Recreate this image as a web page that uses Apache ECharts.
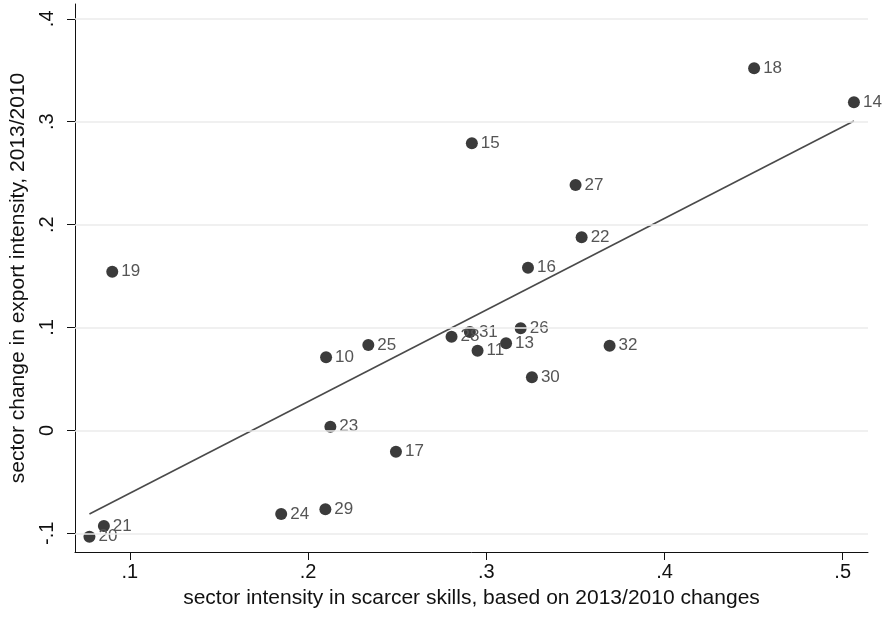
<!DOCTYPE html>
<html>
<head>
<meta charset="utf-8">
<script src="https://cdn.jsdelivr.net/npm/echarts@6/dist/echarts.min.js"></script>
<style>
  html, body { margin: 0; padding: 0; background: #fff; }
  #chart { width: 885px; height: 617px; }
</style>
</head>
<body>
<div id="chart"></div>
<script>
// Sector identifiers
const sectors = ['18', '14', '15', '27', '22', '16', '19', '26', '31', '28', '13', '11', '32', '10', '25', '30', '23', '17', '24', '29', '21', '20'];
// Sector intensity in scarcer skills (2013/2010 changes)
const skillIntensity = [0.4503, 0.5063, 0.2919, 0.3501, 0.3535, 0.3234, 0.0901, 0.3193, 0.2908, 0.2805, 0.3111, 0.2951, 0.3692, 0.2101, 0.2338, 0.3256, 0.2125, 0.2493, 0.1849, 0.2097, 0.0854, 0.0773];
// Change in export intensity, 2013/2010
const exportChange = [0.3519, 0.3189, 0.2790, 0.2385, 0.1877, 0.1581, 0.1542, 0.0992, 0.0956, 0.0911, 0.0846, 0.0775, 0.0823, 0.0710, 0.0830, 0.0516, 0.0036, -0.0207, -0.0812, -0.0767, -0.0929, -0.1033];
// Fitted values line endpoints
const fitX = [0.0773, 0.5063];
const fitY = [-0.0812, 0.3007];
// Tick values
const xTicks = [0.1, 0.2, 0.3, 0.4, 0.5];
const yTicks = [-0.1, 0, 0.1, 0.2, 0.3, 0.4];

const fmt = v => {
  if (Math.abs(v) < 1e-9) return '0';
  const s = (Math.round(v * 10) / 10).toString();
  return s.replace('0.', '.');
};

const font = 'Liberation Sans, Arial, sans-serif';
const chart = echarts.init(document.getElementById('chart'), null, { renderer: 'canvas' });

chart.setOption({
  animation: false,
  backgroundColor: '#ffffff',
  grid: { left: 73, right: 17, top: 4, bottom: 65, containLabel: false },
  xAxis: {
    type: 'value',
    min: 0.0692,
    max: 0.5142,
    name: 'sector intensity in scarcer skills, based on 2013/2010 changes',
    nameLocation: 'middle',
    nameGap: 36,
    nameTextStyle: { fontFamily: font, fontSize: 21, color: '#111' },
    axisLine: { show: true, onZero: false, lineStyle: { color: '#111', width: 1 } },
    axisTick: { show: true, length: 8, customValues: xTicks, lineStyle: { color: '#111', width: 1 } },
    axisLabel: { customValues: xTicks, formatter: fmt, fontFamily: font, fontSize: 20, color: '#111', margin: 10 },
    splitLine: { show: false }
  },
  yAxis: {
    type: 'value',
    min: -0.1182,
    max: 0.4144,
    name: 'sector change in export intensity, 2013/2010',
    nameLocation: 'middle',
    nameRotate: 90,
    nameGap: 46,
    nameTextStyle: { fontFamily: font, fontSize: 21, color: '#111' },
    axisLine: { show: true, onZero: false, lineStyle: { color: '#111', width: 1 } },
    axisTick: { show: true, length: 8, customValues: yTicks, lineStyle: { color: '#111', width: 1 } },
    axisLabel: { customValues: yTicks, formatter: fmt, rotate: 90, fontFamily: font, fontSize: 20, color: '#111', margin: 18 },
    splitLine: { show: false }
  },
  series: [
    {
      // horizontal reference lines at the y ticks
      type: 'line',
      data: [],
      markLine: {
        silent: true,
        symbol: 'none',
        label: { show: false },
        lineStyle: { color: '#ebebeb', width: 1.5, type: 'solid' },
        data: yTicks.map(v => ({ yAxis: v }))
      },
      z: 1
    },
    {
      type: 'line',
      data: fitX.map((x, i) => [x, fitY[i]]),
      symbol: 'none',
      lineStyle: { color: '#4a4a4a', width: 1.6 },
      z: 2
    },
    {
      type: 'scatter',
      data: skillIntensity.map((x, i) => ({ value: [x, exportChange[i]], name: sectors[i] })),
      symbol: 'circle',
      symbolSize: 12,
      itemStyle: { color: '#3b3b3b', opacity: 1 },
      label: {
        show: true,
        position: 'right',
        distance: 3,
        formatter: p => p.name,
        fontFamily: font,
        fontSize: 17,
        color: '#555'
      },
      z: 3
    }
  ]
});
</script>
</body>
</html>
